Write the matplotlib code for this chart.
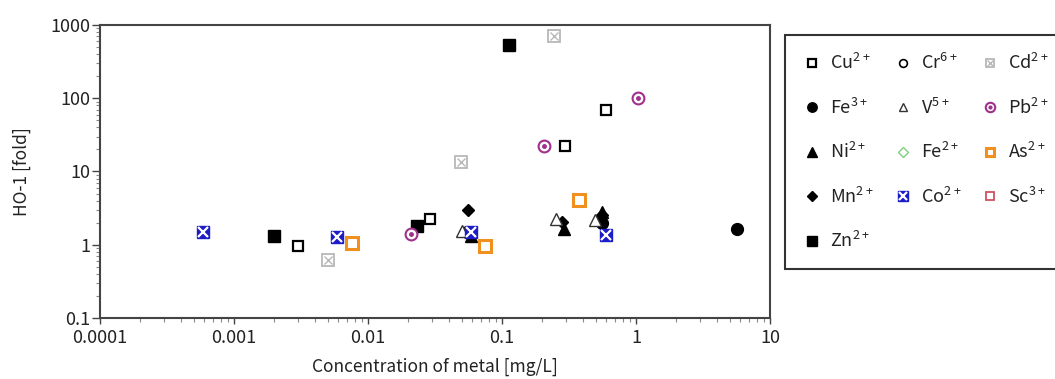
import matplotlib
matplotlib.use("Agg")
import matplotlib.pyplot as plt
from matplotlib.legend_handler import HandlerTuple
from matplotlib.ticker import LogLocator, FixedLocator, FixedFormatter, NullFormatter

plt.rcParams['font.family'] = ['Noto Sans CJK JP', 'DejaVu Sans']
plt.rcParams['mathtext.default'] = 'regular'

# Concentration (mg/L) and HO-1 induction (fold) for each metal ion
cu_x = [0.003, 0.0292, 0.294, 0.594]
cu_y = [0.975, 2.23, 22.3, 68.6]
fe3_x = [0.0545, 0.56, 5.64]
fe3_y = [1.48, 1.97, 1.65]
ni_x = [0.059, 0.292, 0.555]
ni_y = [1.30, 1.63, 2.84]
mn_x = [0.0555, 0.279, 0.56]
mn_y = [2.96, 2.07, 2.55]
zn_x = [0.002, 0.0231, 0.1135]
zn_y = [1.32, 1.83, 538]
cr6_x = []
cr6_y = []
v_x = [0.0502, 0.253, 0.494]
v_y = [1.56, 2.23, 2.20]
fe2_x = []
fe2_y = []
co_x = [0.00059, 0.0059, 0.059, 0.594]
co_y = [1.47, 1.29, 1.48, 1.34]
cd_x = [0.005, 0.0492, 0.245]
cd_y = [0.61, 13.6, 708]
pb_x = [0.021, 0.207, 1.04]
pb_y = [1.39, 22.3, 102]
as_x = [0.00755, 0.0752, 0.376]
as_y = [1.07, 0.966, 4.06]
sc_x = []
sc_y = []

x_ticks = [0.0001, 0.001, 0.01, 0.1, 1, 10]
x_ticklabels = ['0.0001', '0.001', '0.01', '0.1', '1', '10']
y_ticks = [0.1, 1, 10, 100, 1000]
y_ticklabels = ['0.1', '1', '10', '100', '1000']

fig = plt.figure(figsize=(10.55, 3.79), dpi=100)
ax = fig.add_axes([100 / 1055, 1 - 318 / 379, 670 / 1055, 293 / 379])


def series(x, y, layers):
    handles = []
    for kw in layers:
        h, = ax.plot(x, y, linestyle='none', **kw)
        handles.append(h)
    return tuple(handles)


h_cu = series(cu_x, cu_y, [dict(marker='s', ms=7.5, mfc='white', mec='black', mew=1.6)])
h_fe3 = series(fe3_x, fe3_y, [dict(marker='o', ms=8.5, mfc='black', mec='black')])
h_ni = series(ni_x, ni_y, [dict(marker='^', ms=8.5, mfc='black', mec='black')])
h_mn = series(mn_x, mn_y, [dict(marker='D', ms=6.5, mfc='black', mec='black')])
h_zn = series(zn_x, zn_y, [dict(marker='s', ms=9, mfc='black', mec='black')])
h_cr6 = series(cr6_x, cr6_y, [dict(marker='o', ms=7, mfc='white', mec='black', mew=1.2)])
h_v = series(v_x, v_y, [dict(marker='^', ms=8, mfc='white', mec='#333333', mew=1.0)])
h_fe2 = series(fe2_x, fe2_y, [dict(marker='D', ms=6, mfc='white', mec='#7fd17f', mew=1.0)])
h_co = series(co_x, co_y, [dict(marker='s', ms=9, mfc='#1c1cc8', mec='#1c1cc8'),
                           dict(marker='x', ms=6.5, mfc='none', mec='white', mew=1.6)])
h_cd = series(cd_x, cd_y, [dict(marker='s', ms=8, mfc='white', mec='#b8b8b8', mew=1.3),
                           dict(marker='x', ms=5.5, mfc='none', mec='#b8b8b8', mew=1.0)])
h_pb = series(pb_x, pb_y, [dict(marker='o', ms=8.5, mfc='white', mec='#a0308c', mew=1.5),
                           dict(marker='o', ms=2.5, mfc='#a0308c', mec='#a0308c')])
h_as = series(as_x, as_y, [dict(marker='s', ms=8, mfc='white', mec='#f0901e', mew=2.2)])
h_sc = series(sc_x, sc_y, [dict(marker='s', ms=7.5, mfc='white', mec='#d05060', mew=1.3)])

ax.set_xscale('log')
ax.set_yscale('log')
ax.set_xlim(0.0001, 10)
ax.set_ylim(0.1, 1000)

ax.xaxis.set_major_locator(FixedLocator(x_ticks))
ax.xaxis.set_major_formatter(FixedFormatter(x_ticklabels))
ax.xaxis.set_minor_locator(LogLocator(base=10, subs=range(2, 10), numticks=20))
ax.xaxis.set_minor_formatter(NullFormatter())
ax.yaxis.set_major_locator(FixedLocator(y_ticks))
ax.yaxis.set_major_formatter(FixedFormatter(y_ticklabels))
ax.yaxis.set_minor_locator(LogLocator(base=10, subs=range(2, 10), numticks=20))
ax.yaxis.set_minor_formatter(NullFormatter())

ax.tick_params(which='major', direction='out', width=1.0, color='#444444',
               labelsize=13, labelcolor='#222222')
ax.tick_params(axis='x', which='major', length=4, pad=4)
ax.tick_params(axis='y', which='major', length=6, pad=1)
ax.tick_params(which='minor', direction='out', length=3, width=0.8, color='#888888')
for s in ax.spines.values():
    s.set_color('#444444')
    s.set_linewidth(1.5)

ax.set_xlabel('Concentration of metal [mg/L]', fontsize=12.5, color='#222222', labelpad=8)
ax.set_ylabel('HO-1 [fold]', fontsize=12.5, color='#222222', labelpad=14)

handles = [h_cu, h_fe3, h_ni, h_mn, h_zn, h_cr6, h_v, h_fe2, h_co, h_cd, h_pb, h_as, h_sc]
labels = ['Cu$^{2+}$', 'Fe$^{3+}$', 'Ni$^{2+}$', 'Mn$^{2+}$', 'Zn$^{2+}$',
          'Cr$^{6+}$', 'V$^{5+}$', 'Fe$^{2+}$', 'Co$^{2+}$',
          'Cd$^{2+}$', 'Pb$^{2+}$', 'As$^{2+}$', 'Sc$^{3+}$']
leg = fig.legend(handles, labels, ncol=3, loc='upper left',
                 bbox_to_anchor=(785 / 1055, 1 - 35 / 379),
                 handler_map={tuple: HandlerTuple(ndivide=1, pad=0)},
                 markerscale=0.8, fontsize=13, labelspacing=1.35,
                 handlelength=1.0, handletextpad=0.5, columnspacing=1.1,
                 borderpad=1.0, borderaxespad=0, fancybox=False, framealpha=1)
leg.get_frame().set_edgecolor('#333333')
leg.get_frame().set_linewidth(1.5)
for t in leg.get_texts():
    t.set_color('#222222')

fig.savefig('out.png', dpi=100)
